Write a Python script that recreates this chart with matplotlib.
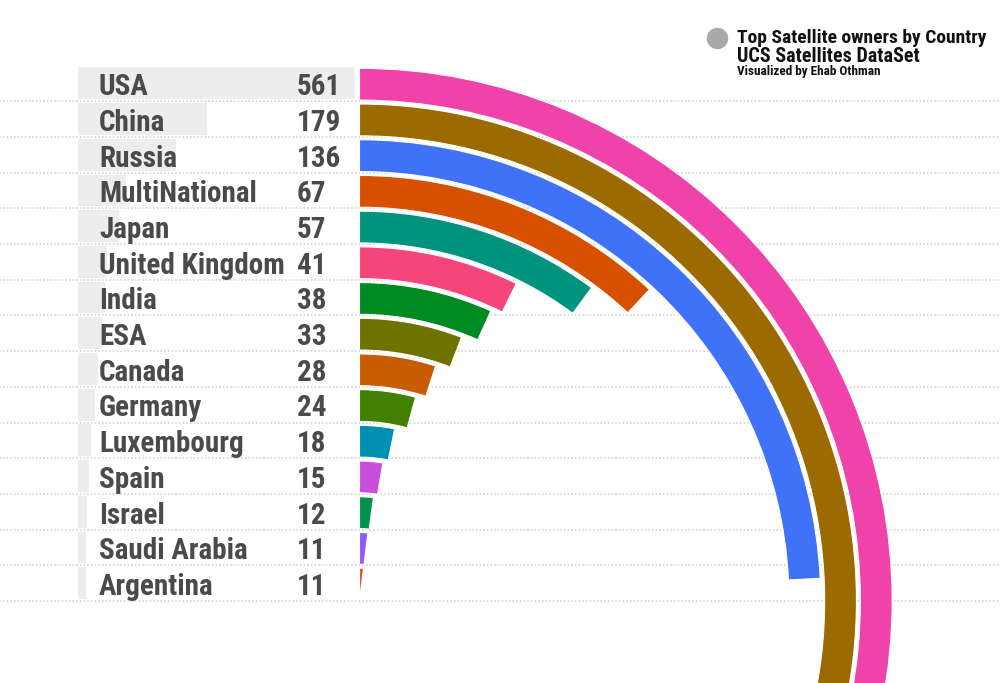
import matplotlib
matplotlib.use("Agg")
import matplotlib.pyplot as plt
import matplotlib.transforms as mtransforms
from matplotlib.patches import Rectangle
import numpy as np

# ---------------- data ----------------
countries = ["USA", "China", "Russia", "MultiNational", "Japan", "United Kingdom",
             "India", "ESA", "Canada", "Germany", "Luxembourg", "Spain", "Israel",
             "Saudi Arabia", "Argentina"]
counts = [561, 179, 136, 67, 57, 41, 38, 33, 28, 24, 18, 15, 12, 11, 11]
colors = ["#F043A9", "#9B6A00", "#3F72F8", "#D65000", "#00947F", "#F5457A",
          "#008A22", "#6E7300", "#C85C00", "#418000", "#0090B2", "#C74EDB",
          "#00914F", "#8C5DFC", "#E84B3C"]
title_lines = ["Top Satellite owners by Country", "UCS Satellites DataSet",
               "Visualized by Ehab Othman"]

FONT = ["Roboto Condensed", "DejaVu Sans"]

W, H = 1000, 683
fig = plt.figure(figsize=(W / 100, H / 100), dpi=100)
fig.patch.set_facecolor("white")

n = len(countries)
row_top = 65.5      # px from top of first row
pitch = 35.7        # px per row
cy = row_top + n * pitch   # circle centre y (px from top)
cx = 359.5               # circle centre x

y_top = -row_top / pitch
y_bot = (H - row_top) / pitch

# ---------------- background dotted lines ----------------
bg = fig.add_axes([0, 0, 1, 1], zorder=0)
bg.set_xlim(0, 1)
bg.set_ylim(y_bot, y_top)
bg.axis("off")
for k in range(1, n + 1):
    bg.axhline(k, color="#d9d9d9", lw=1.5, linestyle=(0, (0.01, 1.75)),
               dash_capstyle="round")

# ---------------- label panel (grey bars) ----------------
lab = fig.add_axes([78 / W, 0, 277 / W, 1], zorder=1)
lab.set_xlim(0, 385)
lab.set_ylim(y_bot, y_top)
lab.axis("off")
lab.patch.set_alpha(0)
ypos = np.arange(n) + 0.5
lab.barh(ypos, counts, height=0.89, color="#ededed", left=0)

tr = mtransforms.blended_transform_factory(fig.transFigure, lab.transData)
for i, (c, v) in enumerate(zip(countries, counts)):
    t1 = fig.text(99 / W, 0, c, transform=tr, fontsize=21, fontweight="bold",
                  family=FONT, color="#4a4a4a", va="baseline", ha="left", zorder=5)
    t1.set_y(i + 0.83)
    t2 = fig.text(297 / W, 0, str(v), transform=tr, fontsize=21, fontweight="bold",
                  family=FONT, color="#4a4a4a", va="baseline", ha="left", zorder=5)
    t2.set_y(i + 0.83)

# ---------------- radial bars ----------------
R = n * pitch
pol = fig.add_axes([(cx - R) / W, (H - cy - R) / H, 2 * R / W, 2 * R / H],
                   projection="polar", zorder=2)
pol.set_theta_zero_location("N")
pol.set_theta_direction(-1)
pol.set_ylim(0, n)
pol.axis("off")
pol.patch.set_alpha(0)

vmax = max(counts)
clip_rect = Rectangle((cx / W, 0), 1 - cx / W, 1, transform=fig.transFigure)
for i, (v, col) in enumerate(zip(counts, colors)):
    k = n - 1 - i
    theta = v / vmax * 2 * np.pi * 0.999
    bars = pol.bar(0, 0.89, width=theta, bottom=k + 0.03, align="edge",
                   color=col, edgecolor="white", linewidth=0.8)
    for b in bars:
        b.set_clip_path(clip_rect)

# ---------------- title block ----------------
fig.add_artist(plt.Line2D([716.7 / W], [1 - 37.7 / H], marker="o",
                          markersize=14.4, color="#a9a9a9", linestyle="none",
                          transform=fig.transFigure))
fig.text(737 / W, 1 - 43 / H, title_lines[0], fontsize=14, fontweight="bold",
         family=FONT, color="#111111", va="baseline", ha="left")
fig.text(737 / W, 1 - 62 / H, title_lines[1], fontsize=14.5, fontweight="bold",
         family=FONT, color="#111111", va="baseline", ha="left")
fig.text(737 / W, 1 - 75.5 / H, title_lines[2], fontsize=9.5, fontweight="bold",
         family=FONT, color="#111111", va="baseline", ha="left")

fig.savefig("out.png", dpi=100, facecolor="white")
